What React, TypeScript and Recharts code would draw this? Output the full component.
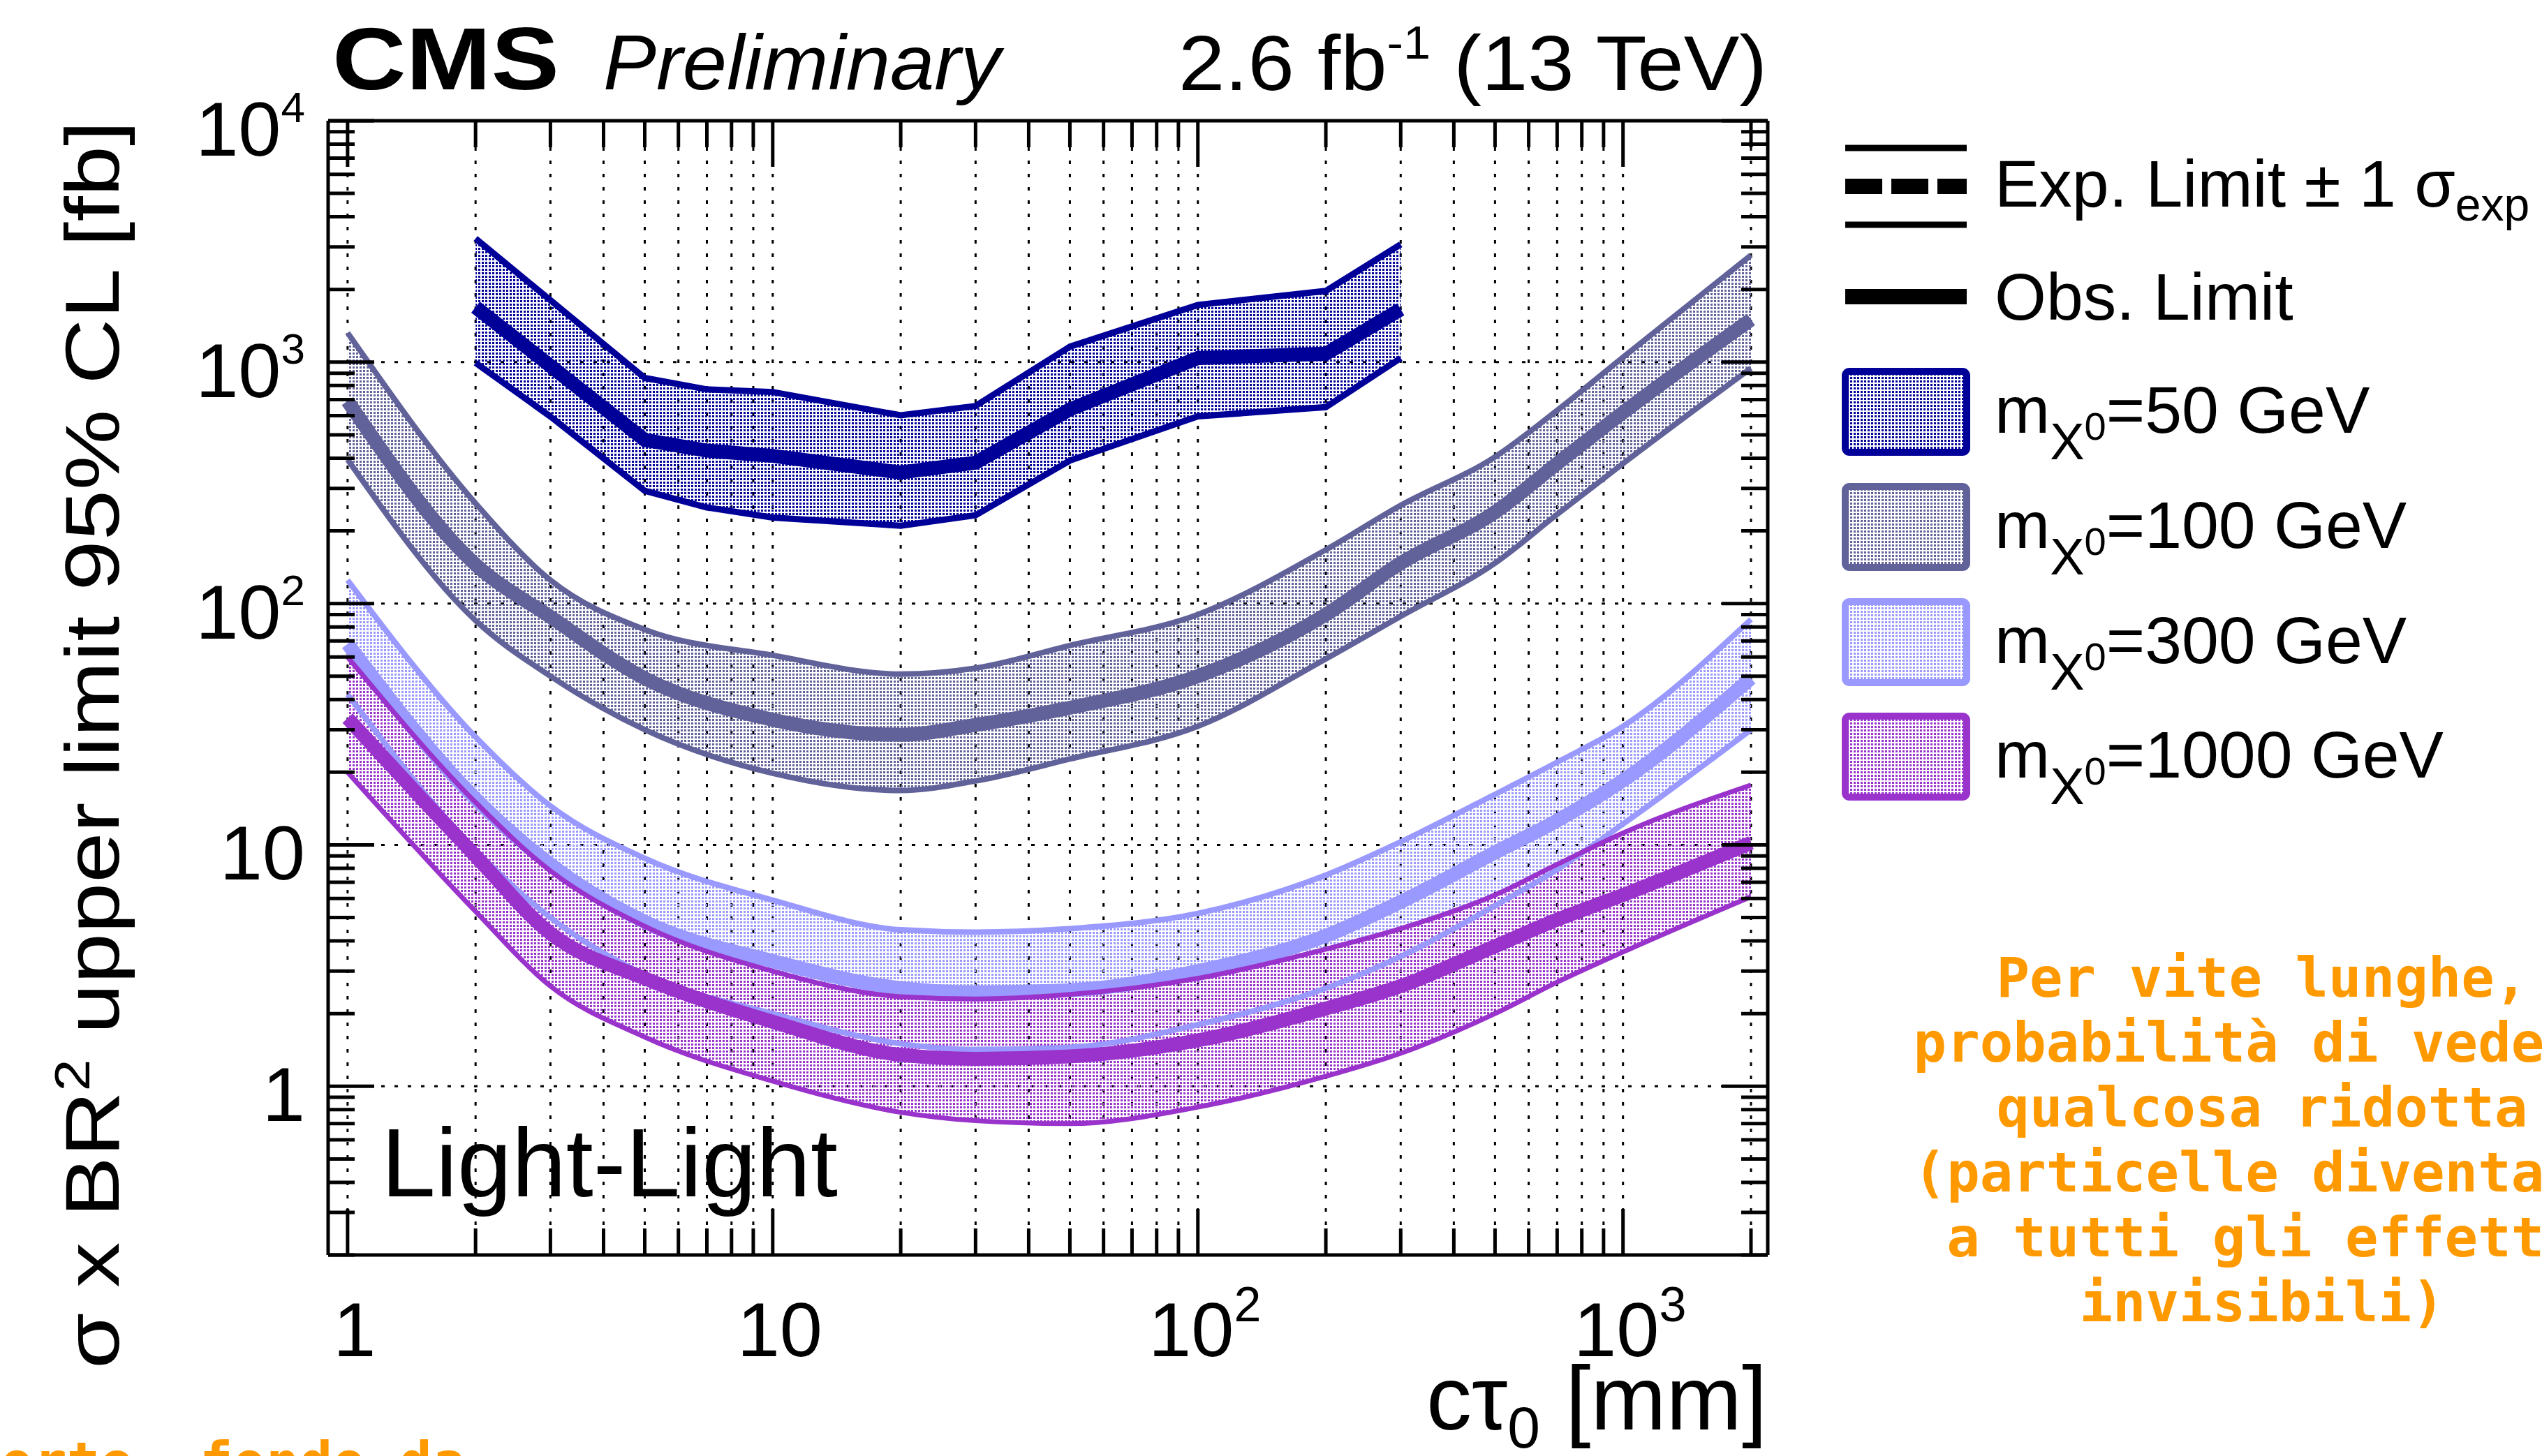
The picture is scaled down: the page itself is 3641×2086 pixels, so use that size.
import React from 'react';
import { ComposedChart, Area, Line, XAxis, YAxis, CartesianGrid } from 'recharts';

// c*tau0 [mm] at which the limits are read
const ctau = [1, 2, 3, 5, 7, 10, 20, 30, 50, 100, 200, 300, 500, 700, 1000, 2000];

// m = 50 GeV (only 2 - 300 mm)
const obs50 = [null, 1690, null, 476, 430, 409, 349, 383, 637, 1040, 1083, 1656, null, null, null, null];
const hi50 = [null, 3250, null, 860, 771, 752, 602, 658, 1159, 1726, 1972, 3076, null, null, null, null];
const lo50 = [null, 993, 595, 293, 250, 227, 210, 232, 391, 596, 651, 1040, null, null, null, null];

// m = 100 GeV
const obs100 = [690, 145, 88, 49, null, 33, 28.6, 31.4, 37, 50, 90, 147, 239, 380, 618, 1500];
const hi100 = [1324, 260, 125, 78, null, 61, 51, 54, 67, 90, 167, 255, 405, 631, 1047, 2773];
const lo100 = [395, 85, 50, 30, null, 19.8, 16.8, 18.4, 22.7, 31, 59, 88.5, 147, 234, 380, 944];

// m = 300 GeV
const obs300 = [68, 15.5, 8.3, 4.8, null, 3.3, 2.55, 2.45, 2.5, 3.0, 4.2, 5.8, 9.3, 12.6, 18.5, 49];
const hi300 = [125, 28, 14.5, 8.8, null, 5.9, 4.45, 4.35, 4.5, 5.2, 7.5, 10.3, 16.2, 22, 31, 86];
const lo300 = [42, 9.5, 5.0, 2.9, null, 2.0, 1.5, 1.42, 1.45, 1.8, 2.55, 3.45, 5.6, 7.9, 12.2, 30];

// m = 1000 GeV
const obs1000 = [33.5, 9, 4.3, 2.8, null, 1.85, 1.35, 1.3, 1.33, 1.55, 2.1, 2.6, 3.8, 4.9, 6.2, 10.2];
const hi1000 = [60, 15, 7.8, 4.6, null, 3.0, 2.35, 2.3, 2.4, 2.8, 3.7, 4.5, 6.2, 8.3, 11.2, 17.7];
const lo1000 = [20, 5.3, 2.6, 1.6, null, 1.05, 0.78, 0.72, 0.7, 0.82, 1.1, 1.37, 2.0, 2.7, 3.6, 6.1];

// axis ticks
const xTicks = [1, 2, 3, 4, 5, 6, 7, 8, 9, 10, 20, 30, 40, 50, 60, 70, 80, 90,
  100, 200, 300, 400, 500, 600, 700, 800, 900, 1000, 2000];
const xMajor = [1, 10, 100, 1000];
const yTicks = [0.2, 0.3, 0.4, 0.5, 0.6, 0.7, 0.8, 0.9, 1, 2, 3, 4, 5, 6, 7, 8, 9,
  10, 20, 30, 40, 50, 60, 70, 80, 90, 100, 200, 300, 400, 500, 600, 700, 800, 900,
  1000, 2000, 3000, 4000, 5000, 6000, 7000, 8000, 9000, 10000];
const yMajor = [1, 10, 100, 1000, 10000];
const exponent: Record<number, string> = { 100: '2', 1000: '3', 10000: '4' };

const masses = [
  { key: '50', label: '50', color: '#000099', curve: 'linear', edge: 9 },
  { key: '100', label: '100', color: '#62629a', curve: 'monotoneX', edge: 8 },
  { key: '300', label: '300', color: '#9999ff', curve: 'monotoneX', edge: 8 },
  { key: '1000', label: '1000', color: '#9933cc', curve: 'monotoneX', edge: 7 },
];

const series: Record<string, { lo: (number | null)[]; hi: (number | null)[]; obs: (number | null)[] }> = {
  '50': { lo: lo50, hi: hi50, obs: obs50 },
  '100': { lo: lo100, hi: hi100, obs: obs100 },
  '300': { lo: lo300, hi: hi300, obs: obs300 },
  '1000': { lo: lo1000, hi: hi1000, obs: obs1000 },
};

const rows = ctau.map((x, i) => {
  const row: Record<string, any> = { x };
  Object.keys(series).forEach((k) => {
    const s = series[k];
    row['band' + k] = s.lo[i] != null && s.hi[i] != null ? [s.lo[i], s.hi[i]] : [null, null];
    row['lo' + k] = s.lo[i];
    row['hi' + k] = s.hi[i];
    row['obs' + k] = s.obs[i];
  });
  return row;
});

const sans = "'Liberation Sans', Arial, Helvetica, sans-serif";
const mono = "'DejaVu Sans Mono', monospace";
const orange = '#ff9900';

const yTick = (side: 'left' | 'right') => (props: any) => {
  const { x, y, payload } = props;
  const v = payload.value;
  const major = yMajor.includes(v);
  const dir = side === 'left' ? 1 : -1;
  const len = major ? 66 : 38;
  return (
    <g>
      <line x1={x} x2={x + dir * len} y1={y} y2={y} stroke="#000" strokeWidth={5} />
      {side === 'left' && major && (
        <text x={437} y={y + 50} textAnchor="end" fontSize={110} fontFamily={sans} fill="#000">
          {v >= 100 ? '10' : String(v)}
          {exponent[v] && (
            <tspan dy={-48} fontSize={62}>{exponent[v]}</tspan>
          )}
        </text>
      )}
    </g>
  );
};

const xTick = (side: 'bottom' | 'top') => (props: any) => {
  const { x, y, payload } = props;
  const v = payload.value;
  const major = xMajor.includes(v);
  const dir = side === 'bottom' ? -1 : 1;
  const len = major ? 66 : 38;
  return (
    <g>
      <line x1={x} x2={x} y1={y} y2={y + dir * len} stroke="#000" strokeWidth={5} />
      {side === 'bottom' && major && (
        <text x={x + 10} y={y + 145} textAnchor="middle" fontSize={110} fontFamily={sans} fill="#000">
          {v >= 100 ? '10' : String(v)}
          {exponent[v] && (
            <tspan dy={-50} fontSize={70}>{exponent[v]}</tspan>
          )}
        </text>
      )}
    </g>
  );
};

const legendRows = [590, 755, 920, 1084];

export default function App() {
  return (
    <div style={{ position: 'absolute', left: 0, top: 0, width: 3641, height: 2086, overflow: 'hidden', background: '#fff' }}>
      <svg width={0} height={0} style={{ position: 'absolute' }}>
        <defs>
          {masses.map((m) => (
            <pattern key={m.key} id={'dots' + m.key} width={5} height={5} patternUnits="userSpaceOnUse">
              <rect x={0} y={0} width={3} height={3} fill={m.color} />
            </pattern>
          ))}
        </defs>
      </svg>
      <div style={{ position: 'absolute', left: 0, top: 0 }}>
        <ComposedChart
          width={3641}
          height={2086}
          data={rows}
          margin={{ left: 170, right: 1099, top: 163, bottom: 88 }}
        >
          <CartesianGrid
            stroke="#000"
            strokeWidth={3}
            strokeDasharray="5 14"
            verticalValues={xTicks}
            horizontalValues={[1, 10, 100, 1000]}
          />
          <XAxis
            dataKey="x"
            type="number"
            scale="log"
            domain={[0.9, 2190]}
            allowDataOverflow
            ticks={xTicks}
            interval={0}
            tickSize={0}
            tickMargin={0}
            tick={xTick('bottom')}
            axisLine={{ stroke: '#000', strokeWidth: 5 }}
            height={200}
          />
          <XAxis
            xAxisId="top"
            orientation="top"
            dataKey="x"
            type="number"
            scale="log"
            domain={[0.9, 2190]}
            allowDataOverflow
            ticks={xTicks}
            interval={0}
            tickSize={0}
            tickMargin={0}
            tick={xTick('top')}
            axisLine={{ stroke: '#000', strokeWidth: 5 }}
            height={10}
          />
          <YAxis
            type="number"
            scale="log"
            domain={[0.2, 10000]}
            allowDataOverflow
            ticks={yTicks}
            interval={0}
            tickSize={0}
            tickMargin={0}
            tick={yTick('left')}
            axisLine={{ stroke: '#000', strokeWidth: 5 }}
            width={300}
          />
          <YAxis
            yAxisId="right"
            orientation="right"
            type="number"
            scale="log"
            domain={[0.2, 10000]}
            allowDataOverflow
            ticks={yTicks}
            interval={0}
            tickSize={0}
            tickMargin={0}
            tick={yTick('right')}
            axisLine={{ stroke: '#000', strokeWidth: 5 }}
            width={10}
          />
          {masses.flatMap((m) => [
            <Area
              key={'band' + m.key}
              dataKey={'band' + m.key}
              type={m.curve as any}
              fill={`url(#dots${m.key})`}
              fillOpacity={1}
              stroke="none"
              connectNulls
              isAnimationActive={false}
            />,
            <Line
              key={'hi' + m.key}
              dataKey={'hi' + m.key}
              type={m.curve as any}
              stroke={m.color}
              strokeWidth={m.edge}
              dot={false}
              activeDot={false}
              connectNulls
              isAnimationActive={false}
            />,
            <Line
              key={'lo' + m.key}
              dataKey={'lo' + m.key}
              type={m.curve as any}
              stroke={m.color}
              strokeWidth={m.edge}
              dot={false}
              activeDot={false}
              connectNulls
              isAnimationActive={false}
            />,
            <Line
              key={'obs' + m.key}
              dataKey={'obs' + m.key}
              type={m.curve as any}
              stroke={m.color}
              strokeWidth={20}
              dot={false}
              activeDot={false}
              connectNulls
              isAnimationActive={false}
            />,
          ])}
        </ComposedChart>
      </div>
      <svg width={3641} height={2086} style={{ position: 'absolute', left: 0, top: 0, pointerEvents: 'none' }}>
        {/* header */}
        <text x={476} y={128} fontSize={126} fontWeight="bold" fontFamily={sans} textLength={325} lengthAdjust="spacingAndGlyphs">CMS</text>
        <text x={864} y={128} fontSize={112} fontStyle="italic" fontFamily={sans} textLength={569} lengthAdjust="spacingAndGlyphs">Preliminary</text>
        <text x={2531} y={129} fontSize={112} textAnchor="end" fontFamily={sans} textLength={843} lengthAdjust="spacingAndGlyphs">
          2.6 fb<tspan dy={-45} fontSize={66}>-1</tspan><tspan dy={45}> (13 TeV)</tspan>
        </text>

        {/* axis titles */}
        <text transform="translate(170,173) rotate(-90)" textAnchor="end" fontSize={110} fontFamily={sans} textLength={1788} lengthAdjust="spacingAndGlyphs">
          σ x BR<tspan dy={-42} fontSize={70}>2</tspan><tspan dy={42}> upper limit 95% CL [fb]</tspan>
        </text>
        <text x={2531} y={2048} textAnchor="end" fontSize={130} fontFamily={sans}>
          cτ<tspan dy={26} fontSize={84}>0</tspan><tspan dy={-26}> [mm]</tspan>
        </text>

        <text x={546} y={1714} fontSize={140} fontFamily={sans} textLength={654} lengthAdjust="spacingAndGlyphs">Light-Light</text>

        {/* legend */}
        <line x1={2643} x2={2817} y1={212} y2={212} stroke="#000" strokeWidth={9} />
        <line x1={2643} x2={2817} y1={267} y2={267} stroke="#000" strokeWidth={22} strokeDasharray="53 13" />
        <line x1={2643} x2={2817} y1={322} y2={322} stroke="#000" strokeWidth={9} />
        <text x={2857} y={296} fontSize={95} fontFamily={sans}>
          Exp. Limit ± 1 σ<tspan dy={20} fontSize={66}>exp</tspan>
        </text>
        <line x1={2643} x2={2817} y1={425} y2={425} stroke="#000" strokeWidth={22} />
        <text x={2857} y={458} fontSize={95} fontFamily={sans}>Obs. Limit</text>
        {masses.map((m, i) => (
          <g key={m.key}>
            <rect
              x={2643}
              y={legendRows[i] - 58}
              width={174}
              height={116}
              rx={6}
              fill={`url(#dots${m.key})`}
              stroke={m.color}
              strokeWidth={10}
            />
            <text x={2857} y={legendRows[i] + 30} fontSize={95} fontFamily={sans}>
              m<tspan dy={38} fontSize={74}>X</tspan><tspan dy={-28} fontSize={56}>0</tspan>
              <tspan dy={-10} fontSize={95}>={m.label} GeV</tspan>
            </text>
          </g>
        ))}

        {/* notes */}
        <g fill={orange} fontFamily={mono} fontWeight="bold" fontSize={79} textAnchor="middle">
          <text x={3240} y={1428} xmlSpace="preserve">Per vite lunghe,</text>
          <text x={3240} y={1521} xmlSpace="preserve">probabilità di vedere</text>
          <text x={3240} y={1614} xmlSpace="preserve">qualcosa ridotta</text>
          <text x={3240} y={1707} xmlSpace="preserve">(particelle diventano</text>
          <text x={3240} y={1800} xmlSpace="preserve">a tutti gli effetti</text>
          <text x={3240} y={1893} xmlSpace="preserve">invisibili)</text>
        </g>
        <text x={-475} y={2122} fill={orange} fontFamily={mono} fontWeight="bold" fontSize={79} xmlSpace="preserve">
          Per vite corte, fondo da
        </text>
      </svg>
    </div>
  );
}
